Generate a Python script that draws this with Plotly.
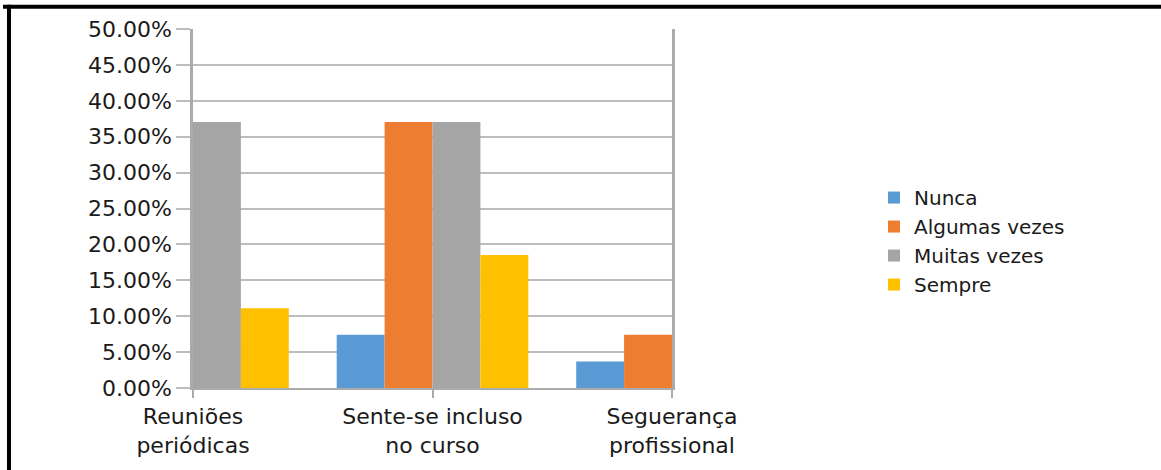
import plotly.graph_objects as go

categories = ["Reuniões<br>periódicas", "Sente-se incluso<br>no curso", "Seguerança<br>profissional"]
series_names = ["Nunca", "Algumas vezes", "Muitas vezes", "Sempre"]
# values in percent; None = bars hidden by the clipped plot edge in the reference
nunca = [None, 7.41, 3.70]
algumas_vezes = [None, 37.04, 7.41]
muitas_vezes = [37.04, 37.04, None]
sempre = [11.11, 18.52, None]
colors = ["#5B9BD5", "#ED7D31", "#A5A5A5", "#FFC000"]
y_ticks = [0, 5, 10, 15, 20, 25, 30, 35, 40, 45, 50]

W, H = 1161, 470
L, R, T, B = 193, 672, 29.3, 387.7

fig = go.Figure()
for name, vals, col in zip(series_names, [nunca, algumas_vezes, muitas_vezes, sempre], colors):
    fig.add_trace(go.Bar(x=categories, y=vals, name=name, marker=dict(color=col, line=dict(width=0))))

font_family = "DejaVu Sans"
txt_col = "#1a1a1a"

def px2x(px):
    return (px - L) / (R - L)

def py2y(py):
    return (B - py) / (B - T)

fig.update_layout(
    width=W, height=H,
    margin=dict(l=L, r=W - R, t=T, b=H - B, pad=0),
    paper_bgcolor="white", plot_bgcolor="white",
    barmode="group", bargap=0.2, bargroupgap=0,
    font=dict(family=font_family, size=22, color=txt_col),
    showlegend=True,
    legend=dict(x=px2x(874), xanchor="left", y=py2y(241), yanchor="middle",
                font=dict(family=font_family, size=20, color=txt_col),
                tracegroupgap=0, itemwidth=30, bgcolor="rgba(0,0,0,0)"),
    xaxis=dict(type="category", range=[0, 2], showgrid=False,
               showline=True, linecolor="#ABABAB", linewidth=2,
               ticks="outside", ticklen=8, tickcolor="#ABABAB", tickwidth=2,
               tickfont=dict(family=font_family, size=22, color=txt_col),
               fixedrange=True),
    yaxis=dict(range=[0, 50], tickvals=y_ticks, ticktext=[f"{v:.2f}%" for v in y_ticks],
               showgrid=True, gridcolor="#BDBDBD", gridwidth=1.5,
               showline=True, linecolor="#ABABAB", linewidth=2.5, mirror=True,
               ticks="outside", ticklen=14, tickcolor="#BDBDBD", tickwidth=1.5,
               tickfont=dict(family=font_family, size=22, color=txt_col),
               zeroline=False, fixedrange=True),
)

# black frame (top and left edges) of the original picture
fig.add_shape(type="line", xref="paper", yref="paper",
              x0=px2x(3), x1=px2x(1165), y0=py2y(7), y1=py2y(7),
              line=dict(color="black", width=4))
fig.add_shape(type="line", xref="paper", yref="paper",
              x0=px2x(9), x1=px2x(9), y0=py2y(5), y1=py2y(475),
              line=dict(color="black", width=4))

fig.write_html("out.html")
